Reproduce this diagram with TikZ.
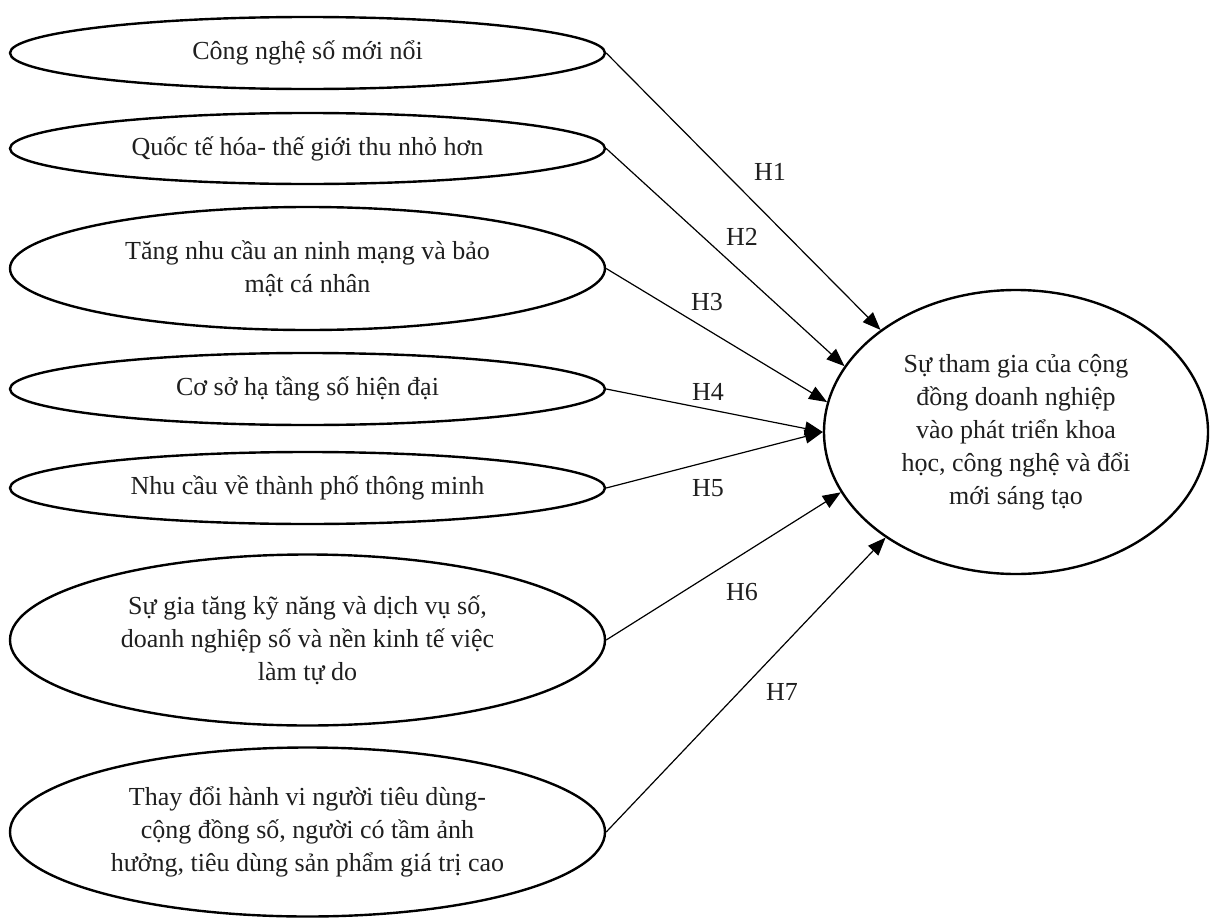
\documentclass[tikz,border=0pt]{standalone}
\usepackage{fontspec}
\setmainfont{Liberation Serif}
\usetikzlibrary{shapes.geometric,arrows.meta}
\begin{document}
\begin{tikzpicture}[x=1pt,y=-1pt,
  every node/.style={font=\fontsize{26}{33}\selectfont, text=black!88},
  factor/.style={ellipse, draw=black, line width=2.4pt, inner sep=0pt, align=center, minimum width=595pt},
  outcome/.style={ellipse, draw=black, line width=2.4pt, inner sep=0pt, align=center, minimum width=384pt, minimum height=284pt},
  link/.style={draw=black, line width=1.2pt, -{Triangle[length=18pt,width=14pt]}},
  hlabel/.style={inner sep=0pt}
]
\useasboundingbox (0,0) rectangle (1211,921);

\node[factor, minimum height=72pt] (f1) at (307.5,53) {Công nghệ số mới nổi};
\node[factor, minimum height=71pt] (f2) at (307.5,148.5) {Quốc tế hóa- thế giới thu nhỏ hơn};
\node[factor, minimum height=123pt] (f3) at (307.5,268.5) {Tăng nhu cầu an ninh mạng và bảo\\mật cá nhân};
\node[factor, minimum height=72pt] (f4) at (307.5,389) {Cơ sở hạ tầng số hiện đại};
\node[factor, minimum height=72pt] (f5) at (307.5,488) {Nhu cầu về thành phố thông minh};
\node[factor, minimum height=171pt] (f6) at (307.5,640) {Sự gia tăng kỹ năng và dịch vụ số,\\doanh nghiệp số và nền kinh tế việc\\làm tự do};
\node[factor, minimum height=169pt] (f7) at (307.5,832) {Thay đổi hành vi người tiêu dùng-\\cộng đồng số, người có tầm ảnh\\hưởng, tiêu dùng sản phẩm giá trị cao};

\node[outcome] (out) at (1016,432) {Sự tham gia của cộng\\đồng doanh nghiệp\\vào phát triển khoa\\học, công nghệ và đổi\\mới sáng tạo};

\draw[link] (f1.east) -- (out.143);
\draw[link] (f2.east) -- (out.159);
\draw[link] (f3.east) -- (out.171);
\draw[link] (f4.east) -- (out.180.5);
\draw[link] (f5.east) -- (out.180.5);
\draw[link] (f6.east) -- (out.199.5);
\draw[link] (f7.east) -- (out.219);

\node[hlabel] (h1) at (770,172) {H1};
\node[hlabel] (h2) at (742,237) {H2};
\node[hlabel] (h3) at (707,302) {H3};
\node[hlabel] (h4) at (708,392) {H4};
\node[hlabel] (h5) at (708,488) {H5};
\node[hlabel] (h6) at (742,592) {H6};
\node[hlabel] (h7) at (782,692) {H7};
\end{tikzpicture}
\end{document}
